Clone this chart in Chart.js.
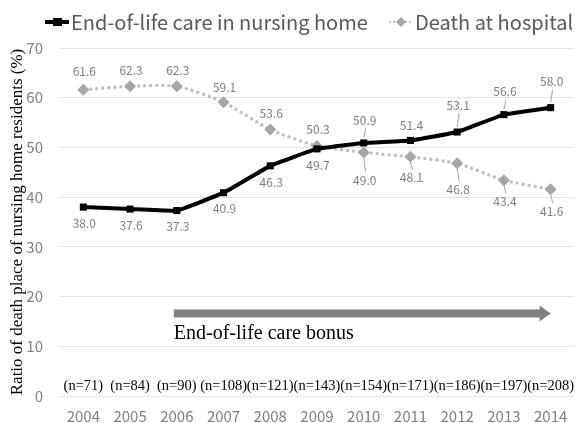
<!DOCTYPE html>
<html>
<head>
<meta charset="utf-8">
<script src="https://cdn.jsdelivr.net/npm/chart.js@4.4.0/dist/chart.umd.min.js"></script>
<style>
  html, body { margin: 0; padding: 0; background: #fff; overflow: hidden; }
</style>
</head>
<body>
<canvas id="myChart" width="580" height="423"></canvas>
<script>
// data
const years = ['2004', '2005', '2006', '2007', '2008', '2009', '2010', '2011', '2012', '2013', '2014'];
const nursingHome = [38.0, 37.6, 37.3, 40.9, 46.3, 49.7, 50.9, 51.4, 53.1, 56.6, 58.0];
const hospital = [61.6, 62.3, 62.3, 59.1, 53.6, 50.3, 49.0, 48.1, 46.8, 43.4, 41.6];
const sampleSizes = [71, 84, 90, 108, 121, 143, 154, 171, 186, 197, 208];
const yTicks = [0, 10, 20, 30, 40, 50, 60, 70];

// label offsets (px, + is down) for the value labels
const nhLabelDy = [16, 16, 16, 16, 17, 17, -23, -15, -27, -23, -26];
const hoLabelDy = [-18, -16, -16, -15, -16, -16, 28, 21, 26, 21, 22];

const sansFont = '"Noto Sans CJK JP", "Noto Sans", sans-serif';
const serifFont = '"Liberation Serif", "DejaVu Serif", serif';

// draws value labels, n= row, bonus arrow and legend
const extras = {
  id: 'extras',
  afterDatasetsDraw(chart) {
    const ctx = chart.ctx;
    const x = chart.scales.x;
    const y = chart.scales.y;
    const offsets = [nhLabelDy, hoLabelDy];

    ctx.save();
    ctx.font = '12px ' + sansFont;
    ctx.textAlign = 'center';
    ctx.textBaseline = 'middle';
    chart.data.datasets.forEach(function(ds, di) {
      const meta = chart.getDatasetMeta(di);
      meta.data.forEach(function(pt, i) {
        const dy = offsets[di][i];
        const ly = pt.y + dy;
        if (Math.abs(dy) > 18) {
          ctx.strokeStyle = '#a6a6a6';
          ctx.lineWidth = 1;
          ctx.beginPath();
          const s = Math.sign(dy);
          ctx.moveTo(pt.x, pt.y + s * 5);
          ctx.lineTo(pt.x + 2, ly - s * 8);
          ctx.stroke();
        }
        ctx.fillStyle = '#7f7f7f';
        ctx.fillText(ds.data[i].toFixed(1), pt.x + 1, ly);
      });
    });

    // sample sizes
    ctx.font = '14.5px ' + serifFont;
    ctx.fillStyle = '#000';
    sampleSizes.forEach(function(n, i) {
      ctx.fillText('(n=' + n + ')', x.getPixelForValue(i), y.getPixelForValue(0) - 10);
    });

    // end-of-life care bonus arrow
    const ay = y.getPixelForValue(16.6);
    const ax0 = x.getPixelForValue(2) - 3;
    const ax1 = x.getPixelForValue(10);
    ctx.fillStyle = '#808080';
    ctx.fillRect(ax0, ay - 4, ax1 - ax0 - 10, 8);
    ctx.beginPath();
    ctx.moveTo(ax1 - 11, ay - 8);
    ctx.lineTo(ax1, ay);
    ctx.lineTo(ax1 - 11, ay + 8);
    ctx.closePath();
    ctx.fill();
    ctx.fillStyle = '#000';
    ctx.font = '20px ' + serifFont;
    ctx.textAlign = 'left';
    ctx.fillText('End-of-life care bonus', ax0, ay + 20);

    // legend
    const ly = 22;
    ctx.font = '20px ' + sansFont;
    ctx.textAlign = 'left';
    ctx.strokeStyle = '#000';
    ctx.lineWidth = 4;
    ctx.beginPath();
    ctx.moveTo(45, ly);
    ctx.lineTo(69, ly);
    ctx.stroke();
    ctx.fillStyle = '#000';
    ctx.fillRect(53, ly - 4, 9, 8);
    ctx.fillStyle = '#595959';
    ctx.fillText('End-of-life care in nursing home', 71, ly);

    ctx.strokeStyle = '#bfbfbf';
    ctx.lineWidth = 2;
    ctx.setLineDash([2, 2]);
    ctx.beginPath();
    ctx.moveTo(389, ly);
    ctx.lineTo(413, ly);
    ctx.stroke();
    ctx.setLineDash([]);
    ctx.fillStyle = '#a6a6a6';
    ctx.beginPath();
    ctx.moveTo(401, ly - 5);
    ctx.lineTo(406, ly);
    ctx.lineTo(401, ly + 5);
    ctx.lineTo(396, ly);
    ctx.closePath();
    ctx.fill();
    ctx.fillStyle = '#595959';
    ctx.fillText('Death at hospital', 415, ly);
    ctx.restore();
  }
};

const data = {
  labels: years,
  datasets: [{
    label: 'End-of-life care in nursing home',
    data: nursingHome,
    borderColor: '#000',
    backgroundColor: '#000',
    borderWidth: 4,
    pointStyle: 'rect',
    pointRadius: 5,
    pointBorderWidth: 0,
    tension: 0.1,
    order: 1
  }, {
    label: 'Death at hospital',
    data: hospital,
    borderColor: '#bfbfbf',
    backgroundColor: '#a6a6a6',
    borderWidth: 3,
    borderDash: [3, 3],
    pointStyle: 'rectRot',
    pointRadius: 6,
    pointBorderWidth: 0,
    tension: 0.2,
    order: 2
  }]
};

const config = {
  type: 'line',
  data: data,
  plugins: [extras],
  options: {
    responsive: false,
    animation: false,
    devicePixelRatio: 1,
    layout: { padding: { top: 48, right: 2, left: 7, bottom: 0 } },
    plugins: {
      legend: { display: false },
      tooltip: { enabled: false }
    },
    scales: {
      x: {
        offset: true,
        grid: { display: false, drawTicks: false },
        border: { display: false },
        ticks: { color: '#808080', font: { size: 15, family: sansFont }, padding: 11 },
        afterFit(axis) { axis.height = 27; }
      },
      y: {
        min: 0,
        max: 70,
        afterBuildTicks(axis) { axis.ticks = yTicks.map(v => ({ value: v })); },
        afterFit(axis) { axis.width = 53; },
        grid: { color: '#e4e4e4', drawTicks: false },
        border: { display: false },
        ticks: { color: '#808080', font: { size: 15, family: sansFont }, padding: 17 },
        title: {
          display: true,
          text: 'Ratio of death place of nursing home residents (%)',
          color: '#000',
          font: { size: 17, family: serifFont },
          padding: { top: 0, bottom: 3 }
        }
      }
    }
  }
};

const myChart = new Chart(document.getElementById('myChart').getContext('2d'), config);
</script>
</body>
</html>
